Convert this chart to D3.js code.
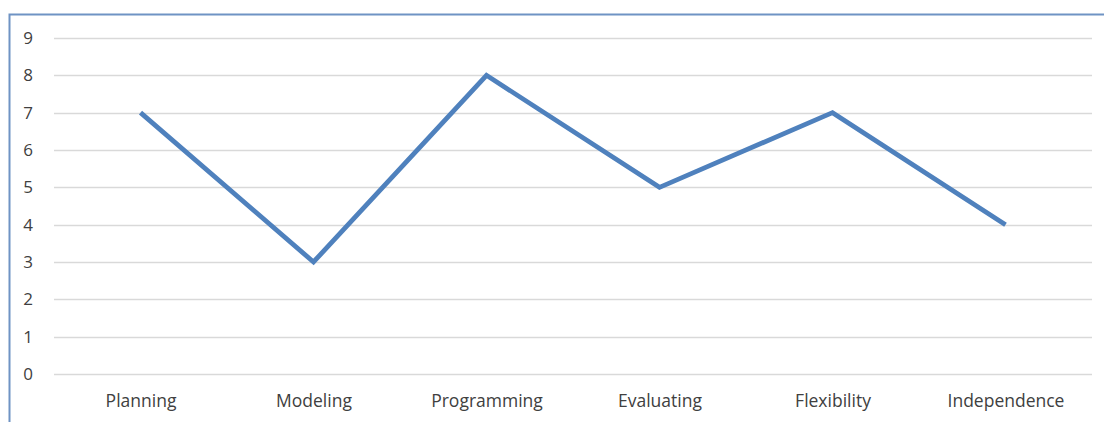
<!DOCTYPE html>
<html>
<head>
<meta charset="utf-8">
<script src="https://cdn.jsdelivr.net/npm/d3@7"></script>
<style>
  html, body { margin: 0; padding: 0; background: #fff; }
  svg { display: block; }
</style>
</head>
<body>
<svg id="chart" width="1104" height="422"></svg>
<script>
// Skill scores per category
const categories = ["Planning", "Modeling", "Programming", "Evaluating", "Flexibility", "Independence"];
const values = [7, 3, 8, 5, 7, 4];
const yTicks = [0, 1, 2, 3, 4, 5, 6, 7, 8, 9];

const svg = d3.select("#chart");
const W = 1104, H = 422;
const plot = { left: 54, right: 1092, top: 38, bottom: 374 };
const font = "'Open Sans', 'Liberation Sans', sans-serif";

// Frame around the chart area
svg.append("path")
  .attr("d", `M9.5,${H} L9.5,14.5 L${W},14.5`)
  .attr("fill", "none")
  .attr("stroke", "#6f93c4")
  .attr("stroke-width", 2);

const x = d3.scalePoint()
  .domain(categories)
  .range([plot.left, plot.right])
  .padding(0.5);

const y = d3.scaleLinear()
  .domain([0, 9])
  .range([plot.bottom, plot.top]);

// Horizontal gridlines
svg.append("g")
  .selectAll("line")
  .data(yTicks)
  .join("line")
  .attr("x1", plot.left)
  .attr("x2", plot.right)
  .attr("y1", d => Math.round(y(d)) + 0.5)
  .attr("y2", d => Math.round(y(d)) + 0.5)
  .attr("stroke", "#d9d9d9")
  .attr("stroke-width", 1.3);

// Y axis labels
const yAxis = d3.axisLeft(y).tickValues(yTicks).tickSize(0).tickPadding(0).tickFormat(d3.format("d"));
const gy = svg.append("g")
  .attr("transform", `translate(33,0)`)
  .call(yAxis);
gy.select(".domain").remove();
gy.selectAll("text")
  .attr("font-family", font)
  .attr("font-size", 17)
  .attr("fill", "#404040");

// X axis labels
const xAxis = d3.axisBottom(x).tickSize(0).tickPadding(0);
const gx = svg.append("g")
  .attr("transform", `translate(0,${plot.bottom + 21})`)
  .call(xAxis);
gx.select(".domain").remove();
gx.selectAll("text")
  .attr("font-family", font)
  .attr("font-size", 17.5)
  .attr("fill", "#404040");

// Data line
const line = d3.line()
  .x((d, i) => x(categories[i]))
  .y(d => y(d));

svg.append("path")
  .datum(values)
  .attr("d", line)
  .attr("fill", "none")
  .attr("stroke", "#4f81bd")
  .attr("stroke-width", 4.8)
  .attr("stroke-linejoin", "miter")
  .attr("stroke-linecap", "butt");
</script>
</body>
</html>
